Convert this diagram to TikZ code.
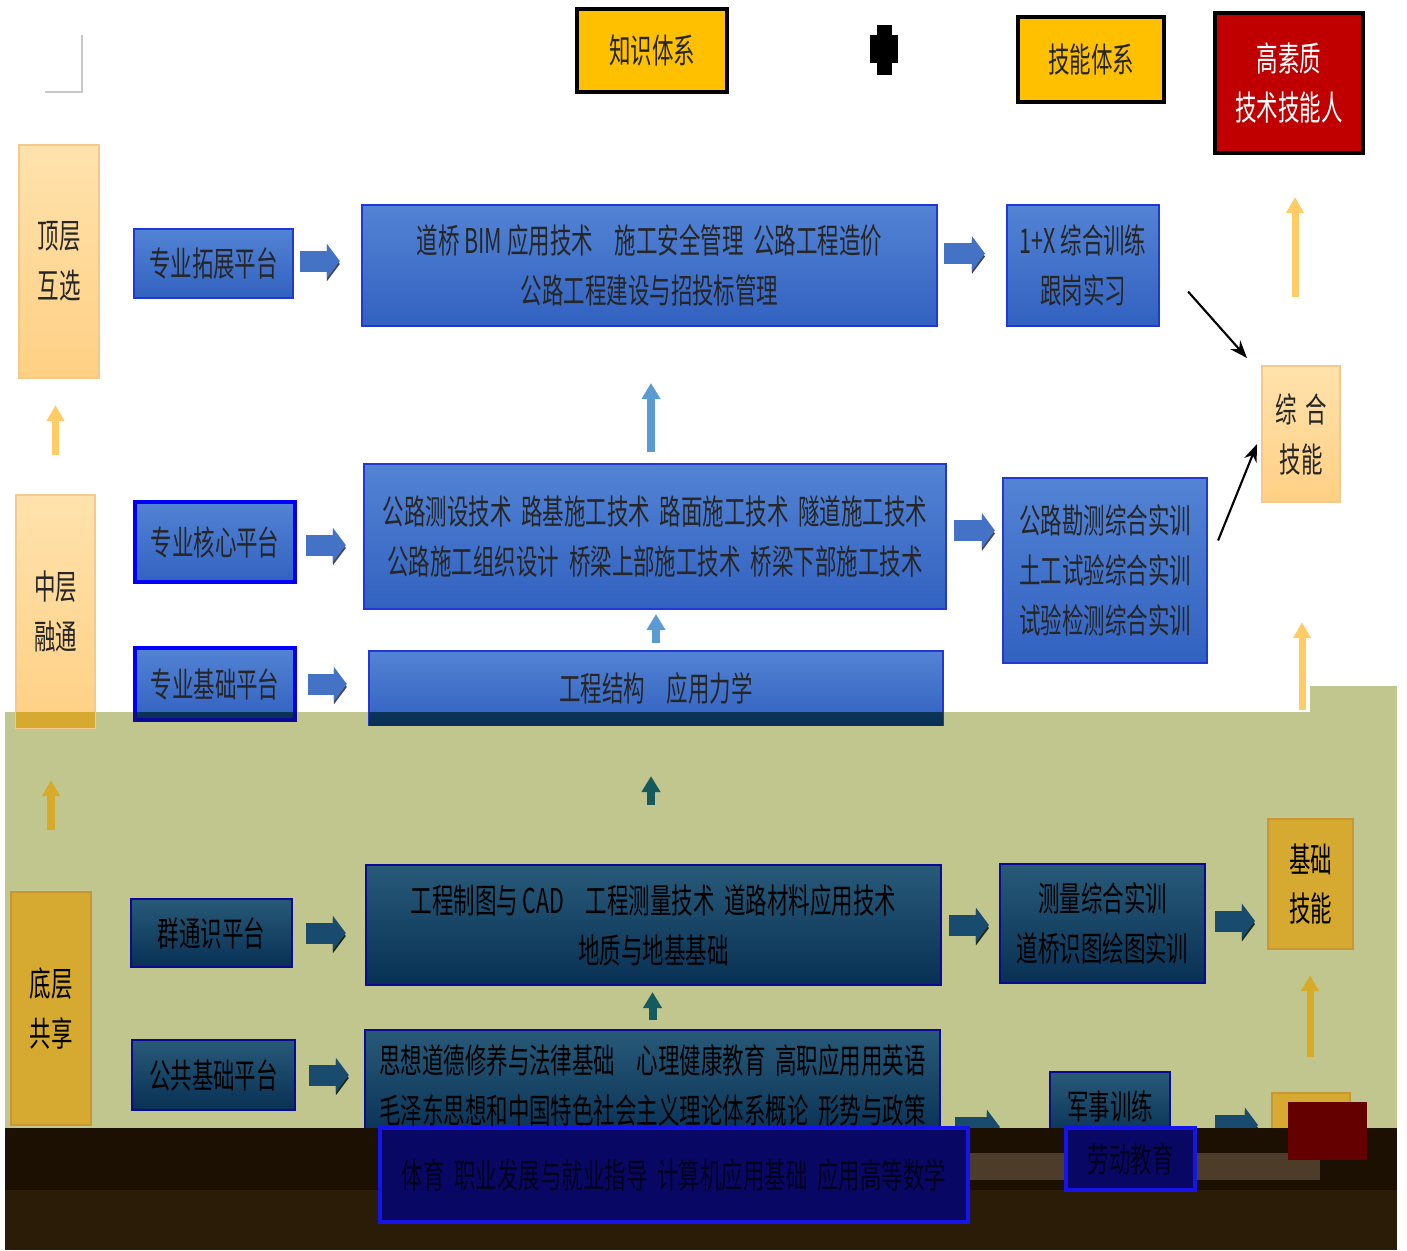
\documentclass[tikz,border=0pt]{standalone}
\usepackage{fontspec}
\newfontfamily\cjk[FakeStretch=0.63]{Noto Sans CJK SC}
\usepackage{tikz}
\usetikzlibrary{arrows.meta, positioning, calc}
\definecolor{headyellow}{RGB}{255,192,0}
\definecolor{headred}{RGB}{192,0,0}
\definecolor{blueTop}{RGB}{82,131,212}
\definecolor{blueBot}{RGB}{50,98,192}
\definecolor{blueEdge}{RGB}{35,55,215}
\definecolor{pureblue}{RGB}{0,0,250}
\definecolor{orangeTop}{RGB}{255,226,172}
\definecolor{orangeBot}{RGB}{255,208,132}
\definecolor{orangeEdge}{RGB}{245,200,140}
\definecolor{arrowblue}{RGB}{68,114,196}
\definecolor{arrowshade}{RGB}{70,70,90}
\definecolor{liftblue}{RGB}{91,155,213}
\definecolor{liftorange}{RGB}{255,204,102}
\definecolor{olivebg}{RGB}{192,198,142}
\definecolor{dimTop}{RGB}{40,90,120}
\definecolor{dimBot}{RGB}{8,48,84}
\definecolor{dimEdge}{RGB}{10,10,150}
\definecolor{dimOrange}{RGB}{214,170,48}
\definecolor{dimOrangeEdge}{RGB}{200,150,50}
\definecolor{dimArrow}{RGB}{25,75,110}
\definecolor{dimShade}{RGB}{30,40,20}
\definecolor{dimLift}{RGB}{20,90,95}
\definecolor{dimGold}{RGB}{215,170,40}
\definecolor{darkA}{RGB}{28,16,2}
\definecolor{darkB}{RGB}{42,28,6}
\definecolor{darkband}{RGB}{78,60,42}
\definecolor{navyfill}{RGB}{8,8,100}
\definecolor{navyedge}{RGB}{20,20,235}
\definecolor{glitchred}{RGB}{100,0,0}
\definecolor{markgray}{RGB}{200,200,200}
\tikzset{
  cntbox/.style={rectangle, inner sep=0pt, outer sep=0pt, align=center,
    font=\cjk\fontsize{9.7}{14.2}\selectfont, text=black!85},
  bluebox/.style={cntbox, top color=blueTop, bottom color=blueBot,
    draw=blueEdge, line width=0.6pt},
  platbox/.style={bluebox, draw=pureblue, line width=1.2pt},
  dimbox/.style={cntbox, top color=dimTop, bottom color=dimBot,
    draw=dimEdge, line width=0.6pt, text=black},
  tierbox/.style={cntbox, top color=orangeTop, bottom color=orangeBot,
    draw=orangeEdge, line width=0.4pt},
  dimtier/.style={cntbox, fill=dimOrange, draw=dimOrangeEdge, line width=0.4pt,
    text=black},
  headbox/.style={cntbox, fill=headyellow, draw=black, line width=1pt},
  lowbox/.style={cntbox, fill=navyfill, draw=navyedge, line width=1pt,
    text=black!70!navyfill},
  fatarrow/.style={-{Triangle[length=1.3mm, width=3.4mm]}, line width=2.1mm,
    color=arrowblue,
    preaction={draw=arrowshade, transform canvas={yshift=-0.3mm}}},
  dimarrow/.style={-{Triangle[length=1.3mm, width=3.4mm]}, line width=2.1mm,
    color=dimArrow,
    preaction={draw=dimShade, transform canvas={yshift=-0.3mm}}},
  uparrow/.style={-{Triangle[length=1.6mm, width=1.8mm]}, line width=0.8mm,
    color=liftblue},
  goldarrow/.style={-{Triangle[length=1.6mm, width=1.7mm]}, line width=0.7mm,
    color=liftorange},
  thinarrow/.style={-{Stealth[length=5pt]}, line width=0.6pt, black},
}

\begin{document}
\begin{tikzpicture}[x=0.01cm, y=-0.01cm]
  \useasboundingbox (0,0) rectangle (1407,1250);
  \fill[white] (0,0) rectangle (1407,1250);
  \fill[olivebg] (5,712) rectangle (1397,1250);
  \fill[olivebg] (1310,686) rectangle (1397,712);

  \draw[markgray] (45,92) -- (82,92) -- (82,35);
  \fill[black] (877,25) rectangle (892,75);
  \fill[black] (870,35) rectangle (898,63);

  \node[headbox, minimum width=1.50cm, minimum height=0.83cm]
    (zhishi) at (652,50.5) {知识体系};
  \node[headbox, minimum width=1.46cm, minimum height=0.85cm]
    (jineng) at (1091,59.5) {技能体系};
  \node[headbox, fill=headred, text=white, minimum width=1.48cm, minimum height=1.40cm]
    (rencai) at (1289,83) {高素质\\技术技能人};

  \node[tierbox, minimum width=0.80cm, minimum height=2.33cm]
    (dingceng) at (59,261.5) {顶层\\互选};
  \node[tierbox, minimum width=0.79cm, minimum height=2.33cm]
    (zhongceng) at (55.5,611.5) {中层\\融通};
  \node[dimtier, minimum width=0.80cm, minimum height=2.33cm]
    (diceng) at (51,1008.5) {底层\\共享};

  \node[bluebox, minimum width=1.59cm, minimum height=0.69cm]
    (tuozhan) at (213.5,263.5) {专业拓展平台};
  \node[platbox, minimum width=1.60cm, minimum height=0.80cm]
    (hexin) at (215,542) {专业核心平台};
  \node[platbox, minimum width=1.60cm, minimum height=0.72cm]
    (jichu) at (215,684) {专业基础平台};
  \node[dimbox, minimum width=1.61cm, minimum height=0.68cm]
    (tongshi) at (211.5,933) {群通识平台};
  \node[dimbox, minimum width=1.63cm, minimum height=0.70cm]
    (gonggong) at (213.5,1075) {公共基础平台};

  \node[bluebox, minimum width=5.75cm, minimum height=1.21cm]
    (extC) at (649.5,265.5)
    {道桥 BIM 应用技术　施工安全管理~~公路工程造价\\公路工程建设与招投标管理};
  \node[bluebox, minimum width=5.82cm, minimum height=1.45cm]
    (coreC) at (655,536.5)
    {公路测设技术~~路基施工技术~~路面施工技术~~隧道施工技术\\
     公路施工组织设计~~桥梁上部施工技术~~桥梁下部施工技术};
  \node[bluebox, minimum width=5.74cm, minimum height=0.74cm]
    (baseC) at (656,688) {工程结构　应用力学};
  \node[dimbox, minimum width=5.75cm, minimum height=1.20cm]
    (genC) at (653.5,925)
    {工程制图与 CAD　工程测量技术~~道路材料应用技术\\地质与地基基础};
  \node[dimbox, minimum width=5.75cm, minimum height=1.10cm]
    (pubC) at (652.5,1085)
    {思想道德修养与法律基础　心理健康教育~~高职应用用英语\\
     毛泽东思想和中国特色社会主义理论体系概论~~形势与政策};

  \node[bluebox, minimum width=1.52cm, minimum height=1.21cm]
    (trainF) at (1083,265.5) {1+X 综合训练\\跟岗实习};
  \node[bluebox, minimum width=2.04cm, minimum height=1.85cm]
    (trainG) at (1105,570.5) {公路勘测综合实训\\土工试验综合实训\\试验检测综合实训};
  \node[dimbox, minimum width=2.05cm, minimum height=1.19cm]
    (trainH) at (1102.5,923.5) {测量综合实训\\道桥识图绘图实训};
  \node[dimbox, minimum width=1.20cm, minimum height=0.68cm]
    (trainI) at (1110,1106) {军事训练};

  \node[tierbox, minimum width=0.78cm, minimum height=1.36cm]
    (zonghe) at (1301,434) {综\hspace{0.8mm}合\\技能};
  \node[dimtier, minimum width=0.85cm, minimum height=1.30cm]
    (jichuJN) at (1310.5,884) {基础\\技能};
  \node[dimtier, minimum width=0.78cm, minimum height=1.47cm]
    (suzhi) at (1311,1166.5) {基础\\素质};

  \begin{scope}
    \clip (5,712) rectangle (1397,1250);
    \fill[dimOrange] (zhongceng.south west) rectangle (zhongceng.north east);
    \fill[bottom color=dimBot, top color=dimTop!60!dimBot]
      (jichu.south west) rectangle (jichu.north east);
    \fill[bottom color=dimBot, top color=dimTop!60!dimBot]
      (baseC.south west) rectangle (baseC.north east);
    \draw[dimEdge, line width=1.2pt] (jichu.south west) rectangle (jichu.north east);
  \end{scope}

  \draw[fatarrow, shorten <=0.7mm, shorten >=2.2mm]
    ([yshift=0.25mm]tuozhan.east) -- ([yshift=0.25mm]tuozhan.east -| extC.west);
  \draw[fatarrow, shorten <=1.1mm, shorten >=1.8mm]
    ([yshift=-0.3mm]hexin.east) -- ([yshift=-0.3mm]hexin.east -| coreC.west);
  \draw[fatarrow, shorten <=1.3mm, shorten >=2.2mm]
    (jichu.east) -- (jichu.east -| baseC.west);
  \draw[dimarrow, shorten <=1.4mm, shorten >=2.0mm]
    (tongshi.east) -- (tongshi.east -| genC.west);
  \draw[dimarrow, shorten <=1.4mm, shorten >=1.6mm]
    (gonggong.east) -- (gonggong.east -| pubC.west);
  \draw[fatarrow, shorten <=0.7mm, shorten >=2.2mm]
    ([yshift=1.2mm]extC.east) -- ([yshift=1.2mm]extC.east -| trainF.west);
  \draw[fatarrow, shorten <=0.8mm, shorten >=0.8mm]
    ([yshift=0.6mm]coreC.east) -- ([yshift=0.6mm]coreC.east -| trainG.west);
  \draw[dimarrow, shorten <=0.8mm, shorten >=1.1mm]
    (genC.east) -- (genC.east -| trainH.west);
  \draw[dimarrow, shorten <=1.0mm, shorten >=1.3mm]
    ([yshift=0.25mm]trainH.east) -- ([yshift=0.25mm]trainH.east -| jichuJN.west);
  \draw[dimarrow, shorten <=1.5mm, shorten >=5.0mm]
    ([yshift=-4.2mm]pubC.east) -- ([yshift=-4.2mm]pubC.east -| trainI.west);
  \draw[dimarrow, shorten <=4.5mm, shorten >=1.4mm]
    ([yshift=-1.9mm]trainI.east) -- ([yshift=-1.9mm]trainI.east -| suzhi.west);

  \draw[uparrow, shorten <=1.2mm, shorten >=5.7mm]
    ([xshift=-0.4mm]coreC.north) -- ([xshift=-0.4mm]coreC.north |- extC.south);
  \draw[uparrow, shorten <=0.8mm, shorten >=0.5mm]
    (baseC.north) -- (baseC.north |- coreC.south);
  \draw[uparrow, dimLift, shorten <=6.0mm, shorten >=5.1mm]
    ([xshift=-0.25mm]genC.north) -- ([xshift=-0.25mm]genC.north |- baseC.south);
  \draw[uparrow, dimLift, shorten <=1.0mm, shorten >=0.7mm]
    (pubC.north) -- (pubC.north |- genC.south);

  \draw[goldarrow, shorten <=4.0mm, shorten >=2.7mm]
    (zhongceng.north) -- (zhongceng.north |- dingceng.south);
  \draw[goldarrow, dimGold, shorten <=6.2mm, shorten >=5.2mm]
    (diceng.north) -- (diceng.north |- zhongceng.south);
  \draw[goldarrow, shorten <=6.9mm, shorten >=4.4mm]
    ([xshift=-0.6mm]zonghe.north) -- ([xshift=-0.6mm]zonghe.north |- rencai.south);
  \draw[goldarrow, shorten <=10.9mm, shorten >=12.0mm]
    ([xshift=-0.85mm]jichuJN.north) -- ([xshift=-0.85mm]jichuJN.north |- zonghe.south);
  \draw[goldarrow, dimGold, shorten <=3.6mm, shorten >=2.6mm]
    ([xshift=-0.1mm]suzhi.north) -- ([xshift=-0.1mm]suzhi.north |- jichuJN.south);

  \draw[thinarrow] ($(trainF.east)+(29,26)$) -- ($(zonghe.north west)+(-15,-8)$);
  \draw[thinarrow] ($(trainG.east)+(11,-30)$) -- ($(zonghe.west)+(-5,10)$);

  \fill[darkA] (5,1128) rectangle (1397,1190);
  \fill[darkB] (5,1190) rectangle (1397,1250);
  \fill[darkband] (960,1153) rectangle (1320,1180);
  \fill[glitchred] (1288,1102) rectangle (1367,1160);

  \node[lowbox, minimum width=5.88cm, minimum height=0.94cm]
    (pubLow) at (674,1175) {体育~~职业发展与就业指导~~计算机应用基础~~应用高等数学};
  \node[lowbox, minimum width=1.29cm, minimum height=0.62cm]
    (junLow) at (1130.5,1159) {劳动教育};
\end{tikzpicture}
\end{document}
